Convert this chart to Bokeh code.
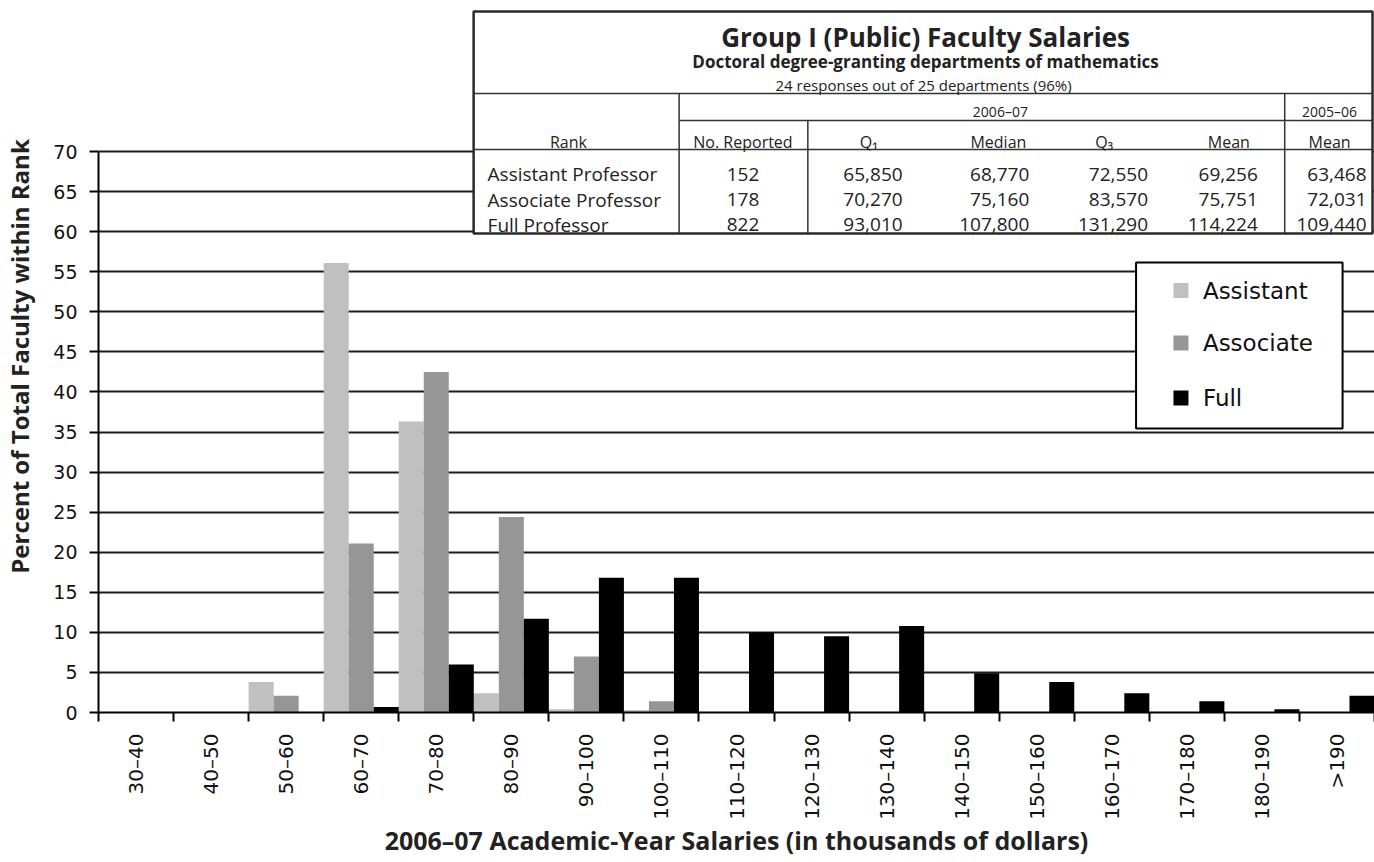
import math
from bokeh.plotting import figure
from bokeh.models import Range1d, FixedTicker, ColumnDataSource
from bokeh.transform import dodge
from bokeh.core.properties import value
from bokeh.embed import file_html
from bokeh.resources import INLINE

# ---------------- data ----------------
categories = ["30–40", "40–50", "50–60", "60–70", "70–80", "80–90", "90–100",
              "100–110", "110–120", "120–130", "130–140", "140–150", "150–160",
              "160–170", "170–180", "180–190", ">190"]
assistant = [0, 0, 3.8, 56.1, 36.3, 2.4, 0.4, 0.3, 0, 0, 0, 0, 0, 0, 0, 0, 0]
associate = [0, 0, 2.1, 21.1, 42.5, 24.4, 7.0, 1.4, 0, 0, 0, 0, 0, 0, 0, 0, 0]
full = [0, 0, 0, 0.7, 6.0, 11.7, 16.8, 16.8, 10.0, 9.5, 10.8, 4.9, 3.8, 2.4, 1.4, 0.4, 2.1]
series_names = ["Assistant", "Associate", "Full"]
series_colors = ["#c0c0c0", "#969696", "#000000"]
y_ticks = list(range(0, 75, 5))

x_title = "2006–07 Academic-Year Salaries (in thousands of dollars)"
y_title = "Percent of Total Faculty within Rank"
table_title = "Group I (Public) Faculty Salaries"
table_subtitle = "Doctoral degree-granting departments of mathematics"
table_note = "24 responses out of 25 departments (96%)"
year_headers = ["2006–07", "2005–06"]
col_headers = ["Rank", "No. Reported", "Q₁", "Median", "Q₃", "Mean", "Mean"]
ranks = ["Assistant Professor", "Associate Professor", "Full Professor"]
no_reported = [152, 178, 822]
q1 = [65850, 70270, 93010]
median = [68770, 75160, 107800]
q3 = [72550, 83570, 131290]
mean_0607 = [69256, 75751, 114224]
mean_0506 = [63468, 72031, 109440]

# ---------------- layout (picture pixels) ----------------
W, H = 1374, 862
FRAME_L, FRAME_R = 95, W
ZERO_Y, TOP_Y = 712, 151
n = len(categories)
XS = (FRAME_R - FRAME_L) / n
YS = (ZERO_Y - TOP_Y) / 70.0


def dx(px):
    return (px - FRAME_L) / XS


def dy(py):
    return (ZERO_Y - py) / YS


p = figure(width=W, height=H,
           x_range=Range1d(0, n), y_range=Range1d(0, dy(0)),
           output_backend="svg", toolbar_location=None,
           min_border_left=FRAME_L, min_border_right=0,
           min_border_top=0, min_border_bottom=H - ZERO_Y)
p.outline_line_color = None
p.background_fill_color = "white"
p.border_fill_color = "white"

# ---------------- bars ----------------
centers = [i + 0.5 for i in range(n)]
src = ColumnDataSource(dict(x=centers, assistant=assistant, associate=associate, full=full))
for k, (col, color) in enumerate(zip(["assistant", "associate", "full"], series_colors)):
    p.vbar(x=dodge("x", (k - 1) / 3.0), top=col, width=1 / 3.0, source=src,
           fill_color=color, line_color=None)

# ---------------- axes ----------------
xa = p.xaxis[0]
xa.ticker = FixedTicker(ticks=centers, minor_ticks=list(range(n + 1)))
xa.major_label_overrides = {c: lab for c, lab in zip(centers, categories)}
xa.major_tick_line_color = None
xa.major_tick_out = 9
xa.major_tick_in = 0
xa.minor_tick_out = 9
xa.minor_tick_in = 0
xa.minor_tick_line_color = "black"
xa.minor_tick_line_width = 2
xa.axis_line_color = "black"
xa.axis_line_width = 2
xa.major_label_orientation = math.pi / 2
xa.major_label_standoff = 12
xa.major_label_text_font = "DejaVu Sans"
xa.major_label_text_font_size = "20px"
xa.major_label_text_color = "#111111"
xa.axis_label = x_title
xa.axis_label_text_font = "Open Sans"
xa.axis_label_text_font_style = "bold"
xa.axis_label_text_font_size = "25px"
xa.axis_label_text_color = "#222222"
xa.axis_label_standoff = 0

ya = p.yaxis[0]
ya.ticker = FixedTicker(ticks=y_ticks, minor_ticks=[])
ya.bounds = (0, 70)
ya.major_tick_out = 9
ya.major_tick_in = 0
ya.major_tick_line_width = 2
ya.major_tick_line_color = "black"
ya.minor_tick_line_color = None
ya.axis_line_color = "black"
ya.axis_line_width = 2
ya.major_label_standoff = 12
ya.major_label_text_font = "DejaVu Sans"
ya.major_label_text_font_size = "19px"
ya.major_label_text_color = "#111111"
ya.axis_label = y_title
ya.axis_label_text_font = "Open Sans"
ya.axis_label_text_font_style = "bold"
ya.axis_label_text_font_size = "24px"
ya.axis_label_text_color = "#222222"
ya.axis_label_standoff = 14

p.xgrid.visible = False
p.ygrid.grid_line_color = "#1c1c1c"
p.ygrid.grid_line_width = 2

# ---------------- legend ----------------
LEG_L, LEG_R, LEG_T, LEG_B = 1135, 1342, 262, 428
p.quad(left=dx(LEG_L), right=dx(LEG_R), top=dy(LEG_T), bottom=dy(LEG_B),
       fill_color="white", line_color="black", line_width=2)
leg_y = [290, 342.5, 397.5]
p.rect(x=[dx(1180)] * 3, y=[dy(v) for v in leg_y], width=15, height=15,
       width_units="screen", height_units="screen",
       fill_color=series_colors, line_color=None)
p.text(x=[dx(1202)] * 3, y=[dy(v) for v in leg_y], text=series_names,
       text_font=value("DejaVu Sans"), text_font_size="23px", text_color="#111111",
       text_align="left", text_baseline="middle")

# ---------------- table ----------------
T_L, T_R, T_T, T_B = 471, 1372, 11, 233
p.quad(left=dx(T_L), right=dx(T_R), top=dy(T_T), bottom=dy(T_B),
       fill_color="white", line_color="#2a2a2a", line_width=2.5)
segs = [  # x0, y0, x1, y1 (picture px)
    (T_L, 93, T_R, 93),
    (677, 120, T_R, 120),
    (T_L, 149, T_R, 149),
    (677, 93, 677, T_B),
    (806, 120, 806, T_B),
    (1284, 93, 1284, T_B),
]
p.segment(x0=[dx(s[0]) for s in segs], y0=[dy(s[1]) for s in segs],
          x1=[dx(s[2]) for s in segs], y1=[dy(s[3]) for s in segs],
          line_color="#333333", line_width=1.5)

TXT = "#222222"
OS = value("Open Sans")
p.text(x=[dx(924)], y=[dy(36)], text=[table_title], text_font=OS,
       text_font_style="bold", text_font_size="26px", text_color=TXT,
       text_align="center", text_baseline="alphabetic")
p.text(x=[dx(924)], y=[dy(61)], text=[table_subtitle], text_font=OS,
       text_font_style="bold", text_font_size="17px", text_color=TXT,
       text_align="center", text_baseline="alphabetic")
p.text(x=[dx(922)], y=[dy(84)], text=[table_note], text_font=OS,
       text_font_size="15px", text_color=TXT,
       text_align="center", text_baseline="alphabetic")
p.text(x=[dx(999), dx(1329)], y=[dy(111)] * 2, text=year_headers,
       text_font=OS, text_font_size="14px", text_color=TXT,
       text_align="center", text_baseline="alphabetic")
head_x = [566, 741, 867, 997, 1103, 1228, 1329]
p.text(x=[dx(v) for v in head_x], y=[dy(141)] * len(col_headers), text=col_headers,
       text_font=OS, text_font_size="16px", text_color=TXT,
       text_align="center", text_baseline="alphabetic")

row_y = [173.5, 199, 224]
p.text(x=[dx(485)] * 3, y=[dy(v) for v in row_y], text=ranks,
       text_font=OS, text_font_size="19px", text_color=TXT,
       text_align="left", text_baseline="alphabetic")
p.text(x=[dx(741)] * 3, y=[dy(v) for v in row_y], text=[str(v) for v in no_reported],
       text_font=OS, text_font_size="19px", text_color=TXT,
       text_align="center", text_baseline="alphabetic")
for vals, right_px in [(q1, 901), (median, 1028), (q3, 1147), (mean_0607, 1257), (mean_0506, 1366)]:
    p.text(x=[dx(right_px)] * 3, y=[dy(v) for v in row_y], text=[f"{v:,}" for v in vals],
           text_font=OS, text_font_size="19px", text_color=TXT,
           text_align="right", text_baseline="alphabetic")

open("out.html", "w").write(file_html(p, INLINE))
